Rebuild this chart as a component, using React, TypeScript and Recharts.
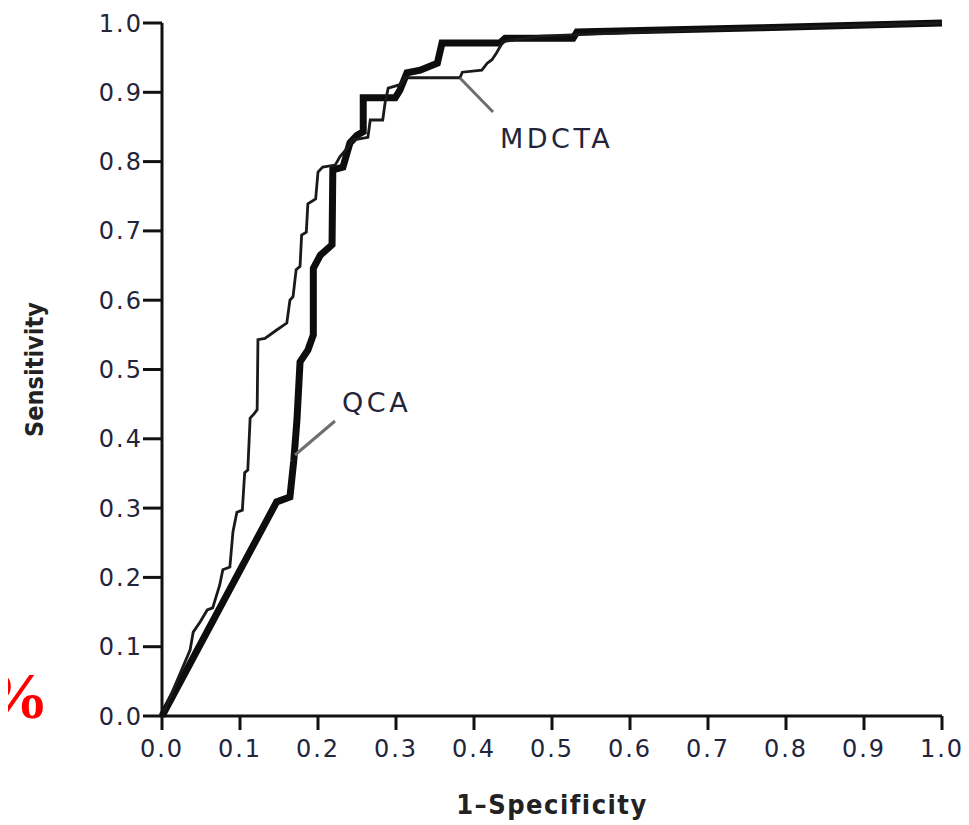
import React from "react";
import { LineChart, Line, XAxis, YAxis, Label, ReferenceLine, ReferenceDot } from "recharts";

// 1 - Specificity (x) and Sensitivity (y) for the QCA curve (thick)
const qcaX = [0, 0.147, 0.164, 0.169, 0.173, 0.177, 0.187, 0.194, 0.194, 0.203, 0.218, 0.219, 0.232, 0.241, 0.25, 0.258, 0.258, 0.299, 0.305, 0.314, 0.331, 0.353, 0.359, 0.433, 0.44, 0.527, 0.532, 0.767, 1];
const qcaY = [0, 0.309, 0.316, 0.369, 0.427, 0.511, 0.528, 0.55, 0.646, 0.665, 0.68, 0.788, 0.792, 0.827, 0.838, 0.843, 0.892, 0.892, 0.903, 0.928, 0.932, 0.942, 0.971, 0.971, 0.978, 0.978, 0.987, 0.993, 1];

// MDCTA curve (thin)
const mdctaX = [0, 0.036, 0.04, 0.049, 0.058, 0.065, 0.074, 0.078, 0.087, 0.091, 0.096, 0.103, 0.106, 0.11, 0.113, 0.118, 0.122, 0.123, 0.132, 0.147, 0.16, 0.164, 0.168, 0.172, 0.177, 0.179, 0.185, 0.187, 0.197, 0.2, 0.206, 0.222, 0.228, 0.238, 0.244, 0.264, 0.267, 0.283, 0.286, 0.29, 0.305, 0.312, 0.382, 0.385, 0.41, 0.417, 0.423, 0.429, 0.437, 0.485, 0.69, 1];
const mdctaY = [0, 0.095, 0.121, 0.136, 0.153, 0.156, 0.189, 0.211, 0.215, 0.266, 0.294, 0.297, 0.351, 0.355, 0.43, 0.436, 0.442, 0.543, 0.545, 0.557, 0.567, 0.6, 0.605, 0.644, 0.649, 0.694, 0.698, 0.739, 0.746, 0.785, 0.792, 0.795, 0.807, 0.82, 0.831, 0.835, 0.86, 0.86, 0.885, 0.906, 0.911, 0.921, 0.921, 0.929, 0.932, 0.942, 0.947, 0.957, 0.973, 0.981, 0.99, 1];

const tickValues = [0, 0.1, 0.2, 0.3, 0.4, 0.5, 0.6, 0.7, 0.8, 0.9, 1.0];

const seriesNames = { qca: "QCA", mdcta: "MDCTA" };
const xTitle = "1–Specificity";
const yTitle = "Sensitivity";

// annotation anchors (data coordinates)
const qcaPointer = [{ x: 0.1705, y: 0.3766 }, { x: 0.2218, y: 0.4257 }];
const mdctaPointer = [{ x: 0.382, y: 0.9206 }, { x: 0.4244, y: 0.8716 }];
const qcaLabelAt = { x: 0.2244, y: 0.452 };
const mdctaLabelAt = { x: 0.4269, y: 0.834 };

const qcaData = qcaX.map((x, i) => ({ x, y: qcaY[i] }));
const mdctaData = mdctaX.map((x, i) => ({ x, y: mdctaY[i] }));

const tickStyle = {
  fontSize: 24,
  fontFamily: "DejaVu Sans",
  fill: "#24243a",
  letterSpacing: 2,
};

const annoStyle = {
  fontSize: 27,
  fontFamily: "DejaVu Sans",
  fill: "#24243a",
  letterSpacing: 3.5,
};

export default function App() {
  return (
    <div style={{ position: "relative", width: 961, height: 817 }}>
      <LineChart
        width={961}
        height={817}
        margin={{ top: 15, right: 27, bottom: 0, left: 0 }}
      >
        <XAxis
          dataKey="x"
          type="number"
          domain={[0, 1]}
          ticks={tickValues}
          tickFormatter={(v: number) => v.toFixed(1)}
          height={109}
          tickSize={14}
          tickMargin={10}
          axisLine={{ stroke: "#111", strokeWidth: 3 }}
          tickLine={{ stroke: "#111", strokeWidth: 3 }}
          tick={tickStyle}
          interval={0}
        >
          <Label
            value={xTitle}
            position="insideBottom"
            offset={11}
            style={{
              fontSize: 27,
              fontFamily: "DejaVu Sans Condensed",
              fontWeight: "bold",
              fill: "#222",
              letterSpacing: 1.5,
            }}
          />
        </XAxis>
        <YAxis
          type="number"
          domain={[0, 1]}
          ticks={tickValues}
          tickFormatter={(v: number) => v.toFixed(1)}
          width={154}
          tickSize={19}
          tickMargin={0}
          axisLine={{ stroke: "#111", strokeWidth: 3 }}
          tickLine={{ stroke: "#111", strokeWidth: 3 }}
          tick={tickStyle}
          interval={0}
        >
          <Label
            value={yTitle}
            angle={-90}
            position="insideLeft"
            offset={26}
            style={{
              textAnchor: "middle",
              fontSize: 25,
              fontFamily: "DejaVu Sans Condensed",
              fontWeight: "bold",
              fill: "#222",
            }}
          />
        </YAxis>
        <Line
          data={qcaData}
          dataKey="y"
          name={seriesNames.qca}
          type="linear"
          stroke="#0d0d0d"
          strokeWidth={7}
          dot={false}
          activeDot={false}
          isAnimationActive={false}
        />
        <Line
          data={mdctaData}
          dataKey="y"
          name={seriesNames.mdcta}
          type="linear"
          stroke="#1a1a1a"
          strokeWidth={2.8}
          dot={false}
          activeDot={false}
          isAnimationActive={false}
        />
        <ReferenceLine
          segment={qcaPointer}
          stroke="#6e6e6e"
          strokeWidth={3}
          ifOverflow="visible"
        />
        <ReferenceLine
          segment={mdctaPointer}
          stroke="#6e6e6e"
          strokeWidth={3}
          ifOverflow="visible"
        />
        <ReferenceDot
          x={qcaLabelAt.x}
          y={qcaLabelAt.y}
          r={0}
          fill="none"
          stroke="none"
          ifOverflow="visible"
          label={{ value: seriesNames.qca, position: "right", offset: 5, style: annoStyle }}
        />
        <ReferenceDot
          x={mdctaLabelAt.x}
          y={mdctaLabelAt.y}
          r={0}
          fill="none"
          stroke="none"
          ifOverflow="visible"
          label={{ value: seriesNames.mdcta, position: "right", offset: 5, style: annoStyle }}
        />
      </LineChart>
      <div
        style={{
          position: "absolute",
          left: -25,
          top: 655,
          fontFamily: "Liberation Serif",
          fontWeight: "bold",
          fontSize: 66,
          lineHeight: 1,
          color: "#ff0000",
        }}
      >
        %
      </div>
    </div>
  );
}
